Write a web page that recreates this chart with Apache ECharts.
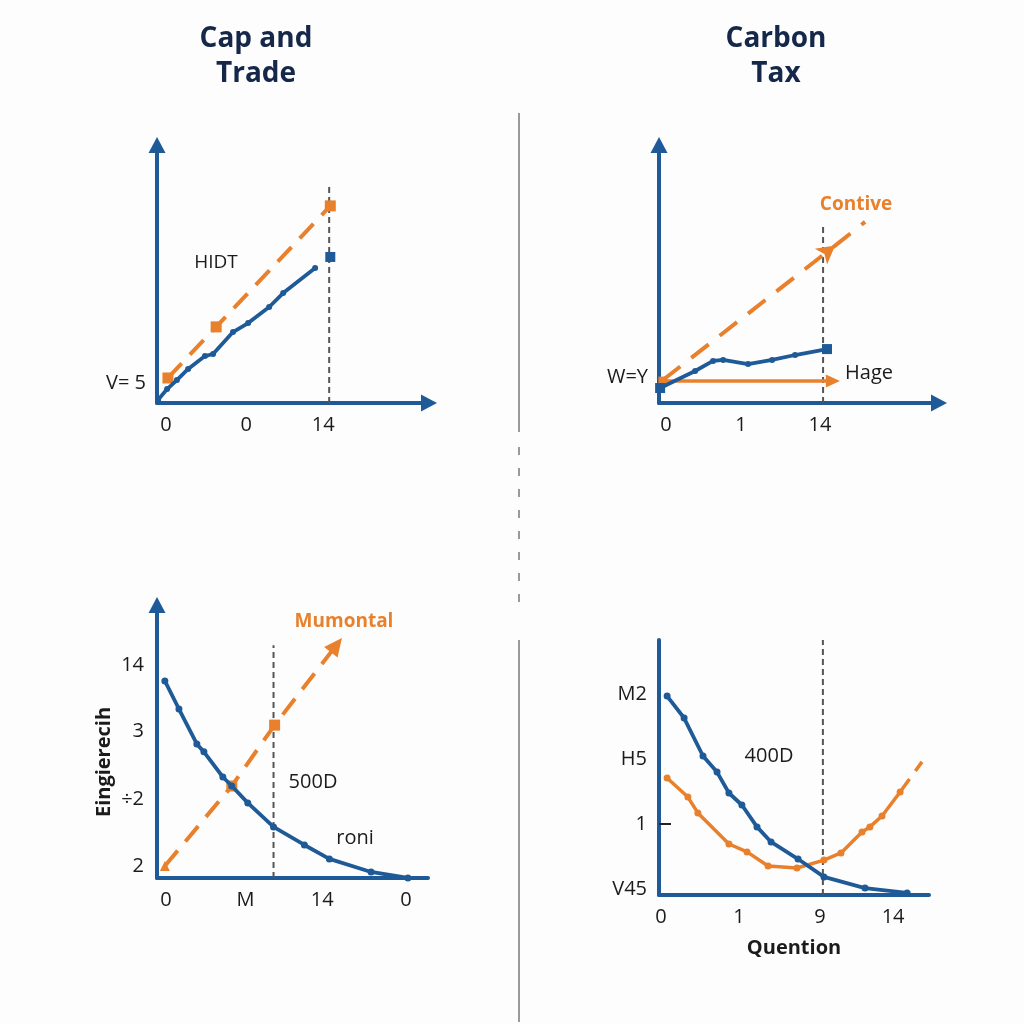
<!DOCTYPE html>
<html><head><meta charset="utf-8">
<script src="https://cdn.jsdelivr.net/npm/echarts@6/dist/echarts.min.js"></script>
<style>html,body{margin:0;padding:0;background:#fdfdfd}#c{width:1024px;height:1024px}</style>
</head><body><div id="c"></div>
<script>
// ---------- DATA ----------
const titleLeft = 'Cap and\nTrade';
const titleRight = 'Carbon\nTax';

// Panel 1 (Cap and Trade, top)
const p1XTicks = [3.2, 31.8, 59.3];
const p1XLabels = ['0', '0', '14'];
const p1YTicks = [7.75];
const p1YLabels = ['V= 5'];
const p1Blue = [[0.4,1.2],[3.6,5.4],[7.1,8.9],[11.1,13.2],[17.1,18.2],[20,19],[27.1,27.5],[32.5,31],[40,37.2],[45,42.6],[56.4,52.3]];
const p1BlueEnd = [[61.8,56.6]];
const p1Orange = [[3.9,9.7],[21.1,29.5],[61.8,76.4]];
const p1Guide = [[61.4,0],[61.4,83.7]];

// Panel 2 (Carbon Tax, top)
const p2XTicks = [2.5, 29.3, 57.5];
const p2XLabels = ['0', '1', '14'];
const p2YTicks = [10.1];
const p2YLabels = ['W=Y'];
const p2Blue = [[0.4,5.8],[12.9,12.4],[19.3,16.3],[22.9,16.7],[31.8,15.1],[40.4,16.7],[48.6,18.6],[60,20.9]];
const p2Trend = [[1.4,8.9],[62.9,61.0],[73.6,70.2]];
const p2Flat = [[1.4,8.5],[62.1,8.5]];
const p2Guide = [[58.6,0],[58.6,68.2]];

// Panel 3 (bottom left)
const p3XTicks = [3.3, 32.7, 61, 91.9];
const p3XLabels = ['0', 'M', '14', '0'];
const p3YTicks = [4.4, 28.9, 53.8, 78];
const p3YLabels = ['2', '÷2', '3', '14'];
const p3Blue = [[2.9,72.2],[8.1,61.9],[14.7,49.1],[17.3,46.2],[24.3,37],[27.6,33.7],[33.5,27.5],[43,18.7],[54.4,12.1],[63.6,7],[79,2.2],[92.6,0]];
const p3Orange = [[2.9,4.4],[27.6,33.7],[43.4,56],[66.2,85.3]];
const p3Guide = [[43,0],[43,85.3]];

// Panel 4 (bottom right)
const p4XTicks = [0.7, 29.6, 59.6, 86.7];
const p4XLabels = ['0', '1', '9', '14'];
const p4YTicks = [2.4, 27.8, 53.3, 78.8];
const p4YLabels = ['V45', '1', 'H5', 'M2'];
const p4Blue = [[3,78],[9.3,69.4],[16.3,54.5],[21.5,48.2],[25.9,40],[30.7,35.3],[36.3,26.7],[41.5,20.8],[51.5,14.1],[61.1,7.1],[76.3,2.7],[91.9,0.8]];
const p4Orange = [[3,45.9],[10.7,38.4],[14.4,32.2],[25.9,20],[32.6,16.9],[40.4,11.4],[51.1,10.6],[61.1,13.7],[67.4,16.5],[75.2,24.7],[78.1,26.7],[82.6,31],[89.3,40.4]];
const p4OrangeTail = [[89.3,40.4],[97.4,52.2]];
const p4Guide = [[60.7,0],[60.7,100]];

// ---------- STYLE ----------
const BLUE = '#1f5a98';
const ORANGE = '#e8802c';
const TEXT = '#1b1b1b';
const NAVY = '#15284a';
const FONT = '"Open Sans", "Noto Sans", sans-serif';

function fmt(ticks, labels) {
  return function (v) {
    let best = 0, d = Infinity;
    ticks.forEach((t, i) => { const dd = Math.abs(t - v); if (dd < d) { d = dd; best = i; } });
    return labels[best];
  };
}
function axisLine(arrow) {
  return { show: true, onZero: false, lineStyle: { color: BLUE, width: 4 },
           symbol: arrow ? ['none', 'triangle'] : ['none', 'none'], symbolSize: [17, 16] };
}
function xAx(idx, max, ticks, labels, arrow, extra) {
  return Object.assign({
    type: 'value', gridIndex: idx, min: 0, max: max,
    axisLine: axisLine(arrow), splitLine: { show: false }, axisTick: { show: false },
    axisLabel: { customValues: ticks, formatter: fmt(ticks, labels), color: TEXT, fontSize: 20, fontFamily: FONT, margin: 12 }
  }, extra || {});
}
function yAx(idx, ticks, labels, arrow, extra) {
  return Object.assign({
    type: 'value', gridIndex: idx, min: 0, max: 100,
    axisLine: axisLine(arrow), splitLine: { show: false }, axisTick: { show: false },
    axisLabel: { customValues: ticks, formatter: fmt(ticks, labels), color: TEXT, fontSize: 20, fontFamily: FONT, margin: 11 }
  }, extra || {});
}
function guide(idx, data) {
  return { type: 'line', xAxisIndex: idx, yAxisIndex: idx, data: data, symbol: 'none', silent: true,
           lineStyle: { color: '#555', width: 2, type: [6, 4] }, z: 1 };
}
function blue(idx, data, symbol, size) {
  return { type: 'line', xAxisIndex: idx, yAxisIndex: idx, data: data, symbol: symbol || 'circle', symbolSize: size || 6,
           itemStyle: { color: BLUE }, lineStyle: { color: BLUE, width: 3.8 }, z: 4 };
}

const chart = echarts.init(document.getElementById('c'));
const option = {
  backgroundColor: '#fdfdfd',
  animation: false,
  grid: [
    { left: 157, top: 145, width: 272, height: 258 },
    { left: 659, top: 145, width: 280, height: 258 },
    { left: 157, top: 605, width: 271, height: 273 },
    { left: 659, top: 640, width: 270, height: 255 }
  ],
  xAxis: [
    xAx(0, 97, p1XTicks, p1XLabels, true),
    xAx(1, 100, p2XTicks, p2XLabels, true),
    xAx(2, 100, p3XTicks, p3XLabels, false),
    xAx(3, 100, p4XTicks, p4XLabels, false, {
      name: 'Quention', nameLocation: 'middle', nameGap: 43,
      nameTextStyle: { color: TEXT, fontSize: 20, fontWeight: 'bold', fontFamily: FONT }
    })
  ],
  yAxis: [
    yAx(0, p1YTicks, p1YLabels, true),
    yAx(1, p2YTicks, p2YLabels, true),
    yAx(2, p3YTicks, p3YLabels, true, { axisLabel: { customValues: p3YTicks, formatter: fmt(p3YTicks, p3YLabels), color: TEXT, fontSize: 20, fontFamily: FONT, margin: 13 } }),
    yAx(3, p4YTicks, p4YLabels, false, {
      axisLabel: { customValues: p4YTicks, formatter: fmt(p4YTicks, p4YLabels), color: TEXT, fontSize: 20, fontFamily: FONT, margin: 12 },
      axisTick: { show: true, inside: true, length: 12, customValues: [p4YTicks[1]], lineStyle: { color: '#222', width: 2 } }
    })
  ],
  series: [
    // Panel 1
    guide(0, p1Guide),
    { type: 'line', xAxisIndex: 0, yAxisIndex: 0, data: p1Orange, symbol: 'rect', symbolSize: 11,
      itemStyle: { color: ORANGE }, lineStyle: { color: ORANGE, width: 4, type: [20, 12] }, z: 3 },
    blue(0, p1Blue, 'circle', 6),
    blue(0, p1BlueEnd, 'rect', 10),
    // Panel 2
    guide(1, p2Guide),
    { type: 'line', xAxisIndex: 1, yAxisIndex: 1, symbolSize: 0, z: 3,
      data: [
        { value: p2Trend[0], symbol: 'none' },
        { value: p2Trend[1], symbol: 'arrow', symbolSize: [15, 18], symbolRotate: -52 },
        { value: p2Trend[2], symbol: 'none' }
      ],
      itemStyle: { color: ORANGE }, lineStyle: { color: ORANGE, width: 4, type: [22, 14] } },
    { type: 'line', xAxisIndex: 1, yAxisIndex: 1, z: 3,
      data: [
        { value: p2Flat[0], symbol: 'rect', symbolSize: 9 },
        { value: p2Flat[1], symbol: 'triangle', symbolSize: [13, 14], symbolRotate: -90 }
      ],
      itemStyle: { color: ORANGE }, lineStyle: { color: ORANGE, width: 3.5 } },
    { type: 'line', xAxisIndex: 1, yAxisIndex: 1, z: 4,
      data: p2Blue.map((p, i) => (i === 0 || i === p2Blue.length - 1)
        ? { value: p, symbol: 'rect', symbolSize: 10 } : { value: p, symbol: 'circle', symbolSize: 6 }),
      itemStyle: { color: BLUE }, lineStyle: { color: BLUE, width: 3.8 } },
    // Panel 3
    guide(2, p3Guide),
    { type: 'line', xAxisIndex: 2, yAxisIndex: 2, z: 3,
      data: p3Orange.map((p, i) => i === 0 ? { value: p, symbol: 'triangle', symbolSize: 10 }
        : i === p3Orange.length - 1 ? { value: p, symbol: 'triangle', symbolSize: [17, 18], symbolRotate: -38 }
        : { value: p, symbol: 'rect', symbolSize: 11 }),
      itemStyle: { color: ORANGE }, lineStyle: { color: ORANGE, width: 4, type: [20, 12] } },
    blue(2, p3Blue, 'circle', 7),
    // Panel 4
    guide(3, p4Guide),
    { type: 'line', xAxisIndex: 3, yAxisIndex: 3, data: p4Orange, symbol: 'circle', symbolSize: 7, z: 3,
      itemStyle: { color: ORANGE }, lineStyle: { color: ORANGE, width: 3.5 } },
    { type: 'line', xAxisIndex: 3, yAxisIndex: 3, data: p4OrangeTail, symbol: 'none', z: 3,
      lineStyle: { color: ORANGE, width: 3.5, type: [16, 10] } },
    blue(3, p4Blue, 'circle', 7)
  ],
  graphic: [
    { type: 'text', x: 256, y: 57, style: { text: titleLeft, font: 'bold 28px ' + FONT, fill: NAVY, align: 'center', verticalAlign: 'middle', lineHeight: 35 } },
    { type: 'text', x: 776, y: 57, style: { text: titleRight, font: 'bold 28px ' + FONT, fill: NAVY, align: 'center', verticalAlign: 'middle', lineHeight: 35 } },
    // dividers
    { type: 'line', shape: { x1: 519, y1: 113, x2: 519, y2: 432 }, style: { stroke: '#9a9a9a', lineWidth: 2 } },
    { type: 'line', shape: { x1: 519, y1: 447, x2: 519, y2: 604 }, style: { stroke: '#9a9a9a', lineWidth: 2, lineDash: [8, 13] } },
    { type: 'line', shape: { x1: 519, y1: 640, x2: 519, y2: 1022 }, style: { stroke: '#9a9a9a', lineWidth: 2 } },
    // annotations
    { type: 'text', x: 216, y: 263, style: { text: 'HIDT', font: '19px ' + FONT, fill: TEXT, align: 'center', verticalAlign: 'middle' } },
    { type: 'text', x: 856, y: 205, style: { text: 'Contive', font: 'bold 19px ' + FONT, fill: ORANGE, align: 'center', verticalAlign: 'middle' } },
    { type: 'text', x: 869, y: 373, style: { text: 'Hage', font: '20px ' + FONT, fill: TEXT, align: 'center', verticalAlign: 'middle' } },
    { type: 'text', x: 344, y: 622, style: { text: 'Mumontal', font: 'bold 19px ' + FONT, fill: ORANGE, align: 'center', verticalAlign: 'middle' } },
    { type: 'text', x: 313, y: 782, style: { text: '500D', font: '20px ' + FONT, fill: TEXT, align: 'center', verticalAlign: 'middle' } },
    { type: 'text', x: 355, y: 838, style: { text: 'roni', font: '20px ' + FONT, fill: TEXT, align: 'center', verticalAlign: 'middle' } },
    { type: 'text', x: 769, y: 756, style: { text: '400D', font: '20px ' + FONT, fill: TEXT, align: 'center', verticalAlign: 'middle' } },
    { type: 'text', x: 104, y: 762, rotation: Math.PI / 2, style: { text: 'Eingierecih', font: 'bold 20px ' + FONT, fill: TEXT, align: 'center', verticalAlign: 'middle' } }
  ]
};
chart.setOption(option);
</script>
</body></html>
